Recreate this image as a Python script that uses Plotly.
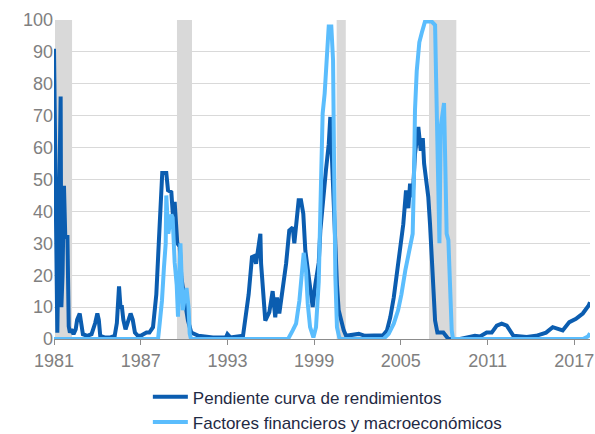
import plotly.graph_objects as go

# Pendiente curva de rendimientos (dark blue)
dark_x = [1981.00, 1981.05, 1981.23, 1981.46, 1981.51, 1981.59, 1981.69, 1981.78, 1981.93, 1982.02,
          1982.10, 1982.20, 1982.35, 1982.50, 1982.60, 1982.78, 1982.90, 1983.00, 1983.30, 1983.60,
          1983.85, 1984.00, 1984.10, 1984.20, 1984.50, 1984.90, 1985.20, 1985.35, 1985.50, 1985.60,
          1985.70, 1985.80, 1985.95, 1986.10, 1986.30, 1986.45, 1986.60, 1986.80, 1987.00, 1987.40,
          1987.60, 1987.85, 1988.08, 1988.25, 1988.38, 1988.49, 1988.77, 1988.89, 1989.12, 1989.24,
          1989.35, 1989.53, 1989.70, 1989.81, 1990.05, 1990.27, 1990.50, 1991.00, 1992.00, 1992.90,
          1993.00, 1993.20, 1994.08, 1994.17, 1994.29, 1994.47, 1994.70, 1994.86, 1994.98, 1995.10,
          1995.28, 1995.33, 1995.44, 1995.62, 1995.90, 1996.13, 1996.31, 1996.43, 1996.59, 1996.83,
          1997.06, 1997.28, 1997.52, 1997.63, 1997.75, 1997.93, 1998.09, 1998.25, 1998.39, 1998.56,
          1998.79, 1998.90, 1999.08, 1999.32, 1999.43, 1999.66, 1999.82, 2000.01, 2000.12, 2000.24,
          2000.36, 2000.47, 2000.58, 2000.70, 2000.88, 2001.05, 2001.21, 2002.09, 2002.52, 2003.21,
          2003.77, 2004.04, 2004.27, 2004.51, 2004.74, 2004.94, 2005.17, 2005.36, 2005.52, 2005.64,
          2005.82, 2005.98, 2006.21, 2006.38, 2006.52, 2006.61, 2006.79, 2006.90, 2007.02, 2007.14,
          2007.25, 2007.37, 2007.53, 2007.94, 2008.29, 2009.10, 2010.13, 2010.48, 2010.94, 2011.29,
          2011.64, 2011.98, 2012.33, 2012.56, 2012.79, 2013.71, 2014.36, 2015.05, 2015.51, 2016.20,
          2016.66, 2017.12, 2017.59, 2018.00, 2018.09]
dark_y = [91, 65, 2, 76, 10, 20, 48, 32, 32, 4,
          2, 3, 1.5, 3, 6, 8, 4, 1.5, 1, 1.5,
          5, 8, 6, 1, 0.5, 0.5, 1, 5, 16.5, 10,
          10, 6, 3, 5, 8, 6, 2, 1, 1, 2,
          2, 3.7, 14, 30, 42.5, 52, 52, 46.6, 46, 38,
          43, 30, 29, 19.4, 12, 5.8, 2, 1, 0.5, 0.5,
          1.5, 0.5, 1, 3.7, 9, 14, 25.7, 26, 23.6, 27.8,
          33, 23.6, 16, 5.8, 8.4, 15, 6.8, 13, 8, 16,
          23.6, 34, 35, 30, 37, 43.5, 43.5, 39.3, 27.8, 21.5,
          13, 10, 17, 24, 34, 46.6, 53, 61, 69.6, 56,
          41, 30, 17, 9, 5.3, 2.7, 1, 1.6, 1, 1,
          1.2, 2.7, 6.8, 13, 21.5, 27.8, 36, 46.6, 41, 48.7,
          44.5, 58, 66.5, 59, 63, 55, 48.7, 44.5, 36, 23.6,
          14, 5.8, 2, 2, 0, 0, 1, 0.8, 2, 2,
          4.2, 4.8, 4.2, 2.7, 1, 0.6, 1, 2, 3.7, 2.7,
          5.3, 6.3, 8, 10.5, 11.5]

# Factores financieros y macroeconómicos (light blue)
light_x = [1981.00, 1988.20, 1988.31, 1988.47, 1988.61, 1988.73, 1988.77, 1988.91, 1989.12, 1989.21,
           1989.35, 1989.49, 1989.58, 1989.75, 1989.91, 1990.17, 1990.31, 1990.39, 1990.48, 1997.20,
           1997.52, 1997.75, 1997.98, 1998.16, 1998.28, 1998.44, 1998.56, 1998.72, 1998.95, 1999.13,
           1999.32, 1999.43, 1999.50, 1999.59, 1999.73, 1999.89, 2000.01, 2000.19, 2000.31, 2000.38,
           2000.47, 2000.58, 2000.74, 2000.85, 2003.80, 2004.16, 2004.51, 2004.81, 2005.04, 2005.31,
           2005.52, 2005.64, 2005.82, 2005.91, 2005.98, 2006.10, 2006.28, 2006.45, 2006.67, 2007.14,
           2007.37, 2007.44, 2007.53, 2007.60, 2007.67, 2007.76, 2007.90, 2007.99, 2008.08, 2008.17,
           2008.29, 2008.40, 2008.52, 2008.61, 2017.60, 2017.95, 2018.09]
light_y = [0, 0, 4.8, 12, 22.5, 30, 45, 33, 39, 38,
           24, 17, 7, 30, 9, 16, 10, 1.7, 0, 0,
           2.7, 4.8, 12, 19.4, 27, 21.5, 11, 3.7, 0.5, 3.7,
           18, 40, 55, 70.7, 77, 89.5, 98, 98, 87.4, 55,
           19.4, 3.7, 0.5, 0, 0, 1.6, 4.8, 9, 14, 21.5,
           26, 28, 33, 51, 71.7, 84, 93, 96, 99.5, 99.5,
           98.4, 82, 61, 40, 30, 66.5, 72.8, 74, 54, 33,
           31, 15, 2.7, 0, 0, 0.8, 1.8]

# shaded periods
rec_start = [1981.07, 1989.51, 2000.56, 2006.95]
rec_end = [1982.25, 1990.55, 2001.19, 2008.84]

tick_years = [1981, 1987, 1993, 1999, 2005, 2011, 2017]

DARK = '#0b5db0'
LIGHT = '#5bbdfd'
FONT = 'Liberation Sans, Arial, sans-serif'

fig = go.Figure()

# gray bands as bars so they sit above the gridlines but under the lines
fig.add_trace(go.Bar(
    x=[(s + e) / 2 for s, e in zip(rec_start, rec_end)],
    y=[100] * len(rec_start),
    width=[e - s for s, e in zip(rec_start, rec_end)],
    marker=dict(color='#d9d9d9', line_width=0),
    showlegend=False, hoverinfo='skip',
))

fig.add_trace(go.Scatter(x=dark_x, y=dark_y, mode='lines', name='Pendiente curva de rendimientos',
                         line=dict(color=DARK, width=4)))
fig.add_trace(go.Scatter(x=light_x, y=light_y, mode='lines', name='Factores financieros y macroeconómicos',
                         line=dict(color=LIGHT, width=4)))

fig.update_layout(
    width=595, height=434,
    margin=dict(l=54, r=5, t=20, b=95, autoexpand=False),
    paper_bgcolor='white', plot_bgcolor='white',
    font=dict(family=FONT, size=18, color='#808080'),
    showlegend=True,
    legend=dict(
        xref='container', yref='container',
        x=0.2485, xanchor='left', y=0.126, yanchor='top',
        font=dict(size=17, color='#1f2a44'),
        itemwidth=35, tracegroupgap=0,
        bgcolor='rgba(0,0,0,0)',
    ),
    xaxis=dict(
        range=[1981, 2018.09], tickvals=tick_years, showgrid=False, zeroline=False,
        showline=True, linecolor='#8c8c8c', linewidth=1, automargin=False,
        ticks='outside', ticklen=5, tickcolor='#8c8c8c',
        tickfont=dict(size=18, color='#808080'),
    ),
    yaxis=dict(
        range=[0, 100], dtick=10, showgrid=True, gridcolor='#d9d9d9', gridwidth=1,
        zeroline=False, showline=False, ticks='', automargin=False,
        tickfont=dict(size=18, color='#808080'),
    ),
)

# drop the default body margin so the figure fills the window exactly
fig.write_html("out.html", config={'displayModeBar': False},
               post_script="document.body.style.margin='0';document.body.style.overflow='hidden';")
